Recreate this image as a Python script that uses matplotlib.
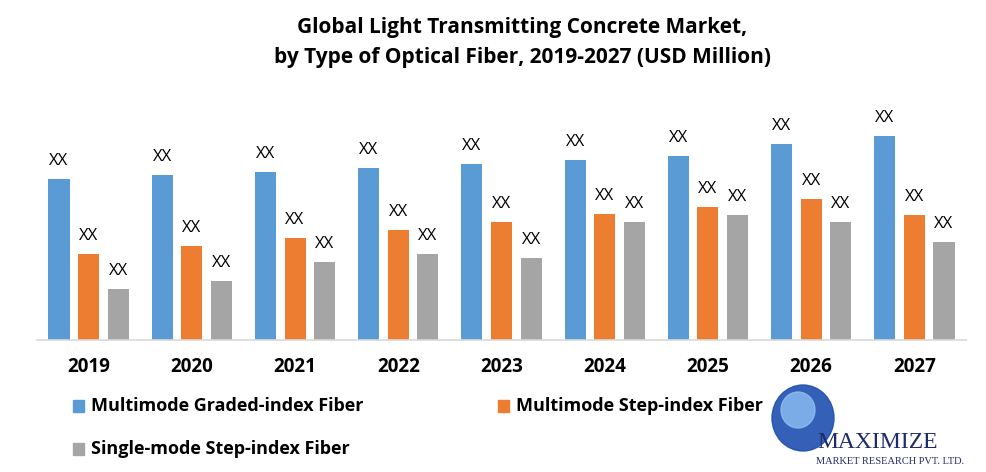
import matplotlib
matplotlib.use("Agg")
import matplotlib.pyplot as plt
import numpy as np
from matplotlib.patches import Rectangle, Ellipse

years = ["2019", "2020", "2021", "2022", "2023", "2024", "2025", "2026", "2027"]
series_names = ["Multimode Graded-index Fiber", "Multimode Step-index Fiber", "Single-mode Step-index Fiber"]
graded = [161, 165, 168, 172, 176, 180, 184, 196, 204]
step = [86, 94, 102, 110, 118, 126, 133, 141, 125]
single = [51, 59, 78, 86, 82, 118, 125, 118, 98]
bar_labels = ["XX"] * 9
colors = ["#5B9BD5", "#ED7D31", "#A5A5A5"]

W, H = 987, 472
fig = plt.figure(figsize=(W / 100, H / 100), dpi=100)
ax = fig.add_axes([37 / W, (H - 340) / H, (966 - 37) / W, 240 / H])

x = np.arange(len(years))
bw = 0.204
off = 0.287
for i, (vals, c) in enumerate(zip([graded, step, single], colors)):
    pos = x + (i - 1) * off
    bars = ax.bar(pos, vals, width=bw, color=c, zorder=2)
    for b, lab in zip(bars, bar_labels):
        ax.annotate(lab, (b.get_x() + b.get_width() / 2, b.get_height()),
                    xytext=(0, 14), textcoords="offset pixels",
                    ha="center", va="baseline", fontsize=12,
                    family="Open Sans", color="#000000")

ax.set_xlim(-0.5, len(years) - 0.5)
ax.set_ylim(0, 240)
ax.set_yticks([])
ax.set_xticks(x)
ax.set_xticklabels(years, fontsize=13.5, fontweight="bold", family="Open Sans")
ax.tick_params(axis="x", length=0, pad=12)
for s in ["top", "right", "left"]:
    ax.spines[s].set_visible(False)
ax.spines["bottom"].set_color("#D9D9D9")
ax.spines["bottom"].set_linewidth(1.2)

fig.text(522 / W, 1 - 28 / H, "Global Light Transmitting Concrete Market,",
         ha="center", va="center", fontsize=15, fontweight="bold", family="Open Sans")
fig.text(522 / W, 1 - 57 / H, "by Type of Optical Fiber, 2019-2027 (USD Million)",
         ha="center", va="center", fontsize=15, fontweight="bold", family="Open Sans")

legend_items = [(73, 406), (498, 406), (73, 449)]
for (lx, ly), name, c in zip(legend_items, series_names, colors):
    fig.patches.append(Rectangle((lx / W, 1 - (ly + 6) / H), 11 / W, 12 / H,
                                 transform=fig.transFigure, color=c))
    fig.text((lx + 18) / W, 1 - ly / H, name, ha="left", va="center",
             fontsize=13, fontweight="bold", family="Open Sans")

# logo
fig.patches.append(Ellipse((803 / W, 1 - 418 / H), 62 / W, 66 / H, transform=fig.transFigure,
                           color="#1F4FB0", alpha=0.9))
fig.patches.append(Ellipse((798 / W, 1 - 410 / H), 34 / W, 36 / H, transform=fig.transFigure,
                           color="#8FC0F5", alpha=0.8))
fig.text(878 / W, 1 - 443 / H, "MAXIMIZE", ha="center", va="center", fontsize=17,
         family="Liberation Serif", color="#1F2A6B")
fig.text(890 / W, 1 - 462 / H, "MARKET RESEARCH PVT. LTD.", ha="center", va="center",
         fontsize=7.5, family="Liberation Serif", color="#1F2A6B")

fig.savefig("out.png", dpi=100)
